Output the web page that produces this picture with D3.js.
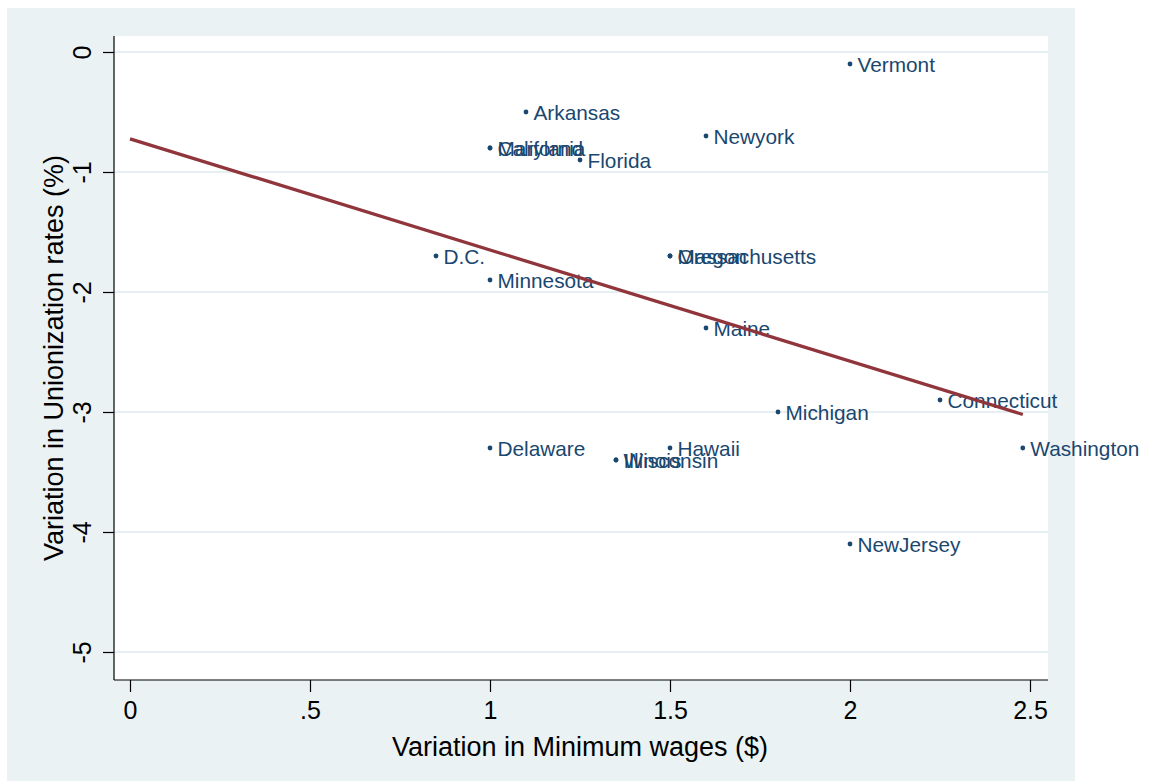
<!DOCTYPE html>
<html>
<head>
<meta charset="utf-8">
<script src="https://cdn.jsdelivr.net/npm/d3@7"></script>
<style>
  html, body { margin: 0; padding: 0; background: #ffffff; }
  svg { display: block; }
  text { font-family: "Liberation Sans", Arial, Helvetica, sans-serif; }
</style>
</head>
<body>
<svg id="chart" width="1150" height="782"></svg>
<script>
// ---- data ----
const states = ["Vermont","Arkansas","California","Maryland","Florida","Newyork","D.C.","Minnesota",
  "Oregon","Massachusetts","Maine","Michigan","Connecticut","Washington","Delaware","Hawaii",
  "Illinois","Wisconsin","NewJersey"];
const wageVariation = [2, 1.1, 1, 1, 1.25, 1.6, 0.85, 1, 1.5, 1.5, 1.6, 1.8, 2.25, 2.48, 1, 1.5, 1.35, 1.35, 2];
const unionVariation = [-0.1, -0.5, -0.8, -0.8, -0.9, -0.7, -1.7, -1.9, -1.7, -1.7, -2.3, -3, -2.9, -3.3, -3.3, -3.3, -3.4, -3.4, -4.1];
const xTicks = [0, 0.5, 1, 1.5, 2, 2.5];
const xTickLabels = ["0", ".5", "1", "1.5", "2", "2.5"];
const yTicks = [0, -1, -2, -3, -4, -5];
const yTickLabels = ["0", "-1", "-2", "-3", "-4", "-5"];
const xTitle = "Variation in Minimum wages ($)";
const yTitle = "Variation in Unionization rates (%)";
const fitStartX = 0;

// ---- layout ----
const svg = d3.select("#chart");
const plot = { left: 114, right: 1048, top: 36, bottom: 680 };
const navy = "#1a476f", maroon = "#90353b", bg = "#eaf2f3";

svg.append("rect").attr("x", 7).attr("y", 8).attr("width", 1068).attr("height", 773).attr("fill", bg);
svg.append("rect").attr("x", plot.left).attr("y", plot.top)
  .attr("width", plot.right - plot.left).attr("height", plot.bottom - plot.top).attr("fill", "#ffffff");

const x = d3.scaleLinear().domain([-16 / 360, 918 / 360]).range([plot.left, plot.right]);
const y = d3.scaleLinear().domain([16 / 120, -628 / 120]).range([plot.top, plot.bottom]);

// grid
svg.append("g").selectAll("line").data(yTicks).join("line")
  .attr("x1", plot.left).attr("x2", plot.right)
  .attr("y1", d => y(d)).attr("y2", d => y(d))
  .attr("stroke", "#e6eff1").attr("stroke-width", 1.8);

// x axis
const xAxis = d3.axisBottom(x).tickValues(xTicks).tickFormat((d, i) => xTickLabels[i])
  .tickSize(12).tickPadding(9).tickSizeOuter(0);
const gx = svg.append("g").attr("transform", `translate(0,${plot.bottom})`).call(xAxis);
gx.select(".domain").attr("stroke", "#000").attr("stroke-width", 1.2)
  .attr("d", `M${plot.left},0H${plot.right}`);
gx.selectAll(".tick line").attr("stroke", "#000").attr("stroke-width", 1.2);
gx.selectAll(".tick text").attr("font-size", 25).attr("fill", "#000")
  .attr("font-family", "Liberation Sans, Arial, sans-serif");

// y axis
const yAxis = d3.axisLeft(y).tickValues(yTicks).tickFormat((d, i) => yTickLabels[i])
  .tickSize(11).tickSizeOuter(0);
const gy = svg.append("g").attr("transform", `translate(${plot.left},0)`).call(yAxis);
gy.select(".domain").attr("stroke", "#000").attr("stroke-width", 1.2)
  .attr("d", `M0,${plot.top}V${plot.bottom}`);
gy.selectAll(".tick line").attr("stroke", "#000").attr("stroke-width", 1.2);
gy.selectAll(".tick text")
  .attr("font-size", 25).attr("fill", "#000")
  .attr("font-family", "Liberation Sans, Arial, sans-serif")
  .attr("x", null).attr("dy", null)
  .attr("text-anchor", "middle")
  .attr("transform", "translate(-23,0) rotate(-90)")
  .attr("y", 0);

// axis titles
svg.append("text").attr("x", (x(0) + x(2.5)) / 2).attr("y", 756)
  .attr("text-anchor", "middle").attr("font-size", 27).attr("fill", "#000").text(xTitle);
svg.append("text").attr("transform", `translate(63,${(plot.top + plot.bottom) / 2}) rotate(-90)`)
  .attr("text-anchor", "middle").attr("font-size", 27).attr("fill", "#000").text(yTitle);

// points
const data = states.map((s, i) => ({ s, xv: wageVariation[i], yv: unionVariation[i] }));
svg.append("g").selectAll("circle").data(data).join("circle")
  .attr("cx", d => x(d.xv)).attr("cy", d => y(d.yv)).attr("r", 2.4).attr("fill", navy);
svg.append("g").selectAll("text").data(data).join("text")
  .attr("x", d => x(d.xv) + 7.5).attr("y", d => y(d.yv)).attr("dy", "0.4em")
  .attr("font-size", 20.8).attr("fill", navy).text(d => d.s);

// linear fit
const mx = d3.mean(wageVariation), my = d3.mean(unionVariation);
const sxy = d3.sum(wageVariation.map((v, i) => (v - mx) * (unionVariation[i] - my)));
const sxx = d3.sum(wageVariation.map(v => (v - mx) * (v - mx)));
const slope = sxy / sxx, intercept = my - slope * mx;
const xEnd = d3.max(wageVariation);
const line = d3.line().x(d => x(d)).y(d => y(intercept + slope * d));
svg.append("path").datum([fitStartX, xEnd]).attr("d", line)
  .attr("fill", "none").attr("stroke", maroon).attr("stroke-width", 3.3);
</script>
</body>
</html>
